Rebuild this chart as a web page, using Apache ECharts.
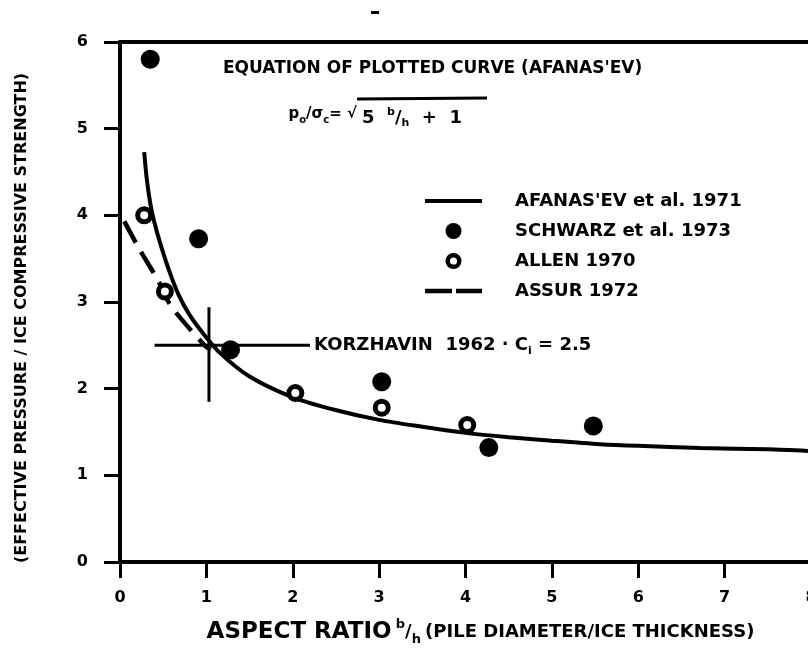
<!DOCTYPE html>
<html><head><meta charset="utf-8">
<script src="https://cdn.jsdelivr.net/npm/echarts@6/dist/echarts.min.js"></script>
<style>html,body{margin:0;padding:0;background:#fff}#c{width:808px;height:655px}</style>
</head><body><div id="c"></div>
<script>
// ---- data ----
const afanasevCurve = [[0.28,4.73],[0.31,4.42],[0.35,4.14],[0.39,3.95],[0.48,3.63],[0.58,3.33],[0.68,3.08],[0.8,2.86],[0.96,2.64],[1.16,2.41],[1.5,2.14],[2.0,1.90],[2.47,1.76],[3.0,1.64],[3.5,1.56],[4.0,1.49],[4.5,1.44],[5.0,1.40],[5.56,1.36],[6.0,1.34],[6.72,1.315],[7.5,1.30],[8.0,1.28]];
const schwarzPoints = [[0.35,5.80],[0.91,3.73],[1.28,2.45],[3.03,2.08],[4.27,1.32],[5.48,1.57]];
const allenPoints = [[0.28,4.00],[0.52,3.12],[2.03,1.95],[3.03,1.78],[4.02,1.58]];
const assurCurve = [[0.05,3.93],[0.23,3.60],[0.44,3.25],[0.58,2.97],[0.79,2.71],[0.98,2.50],[1.05,2.45]];
const korzhavinHorizontal = [[0.4,2.5],[2.2,2.5]];
const korzhavinVertical = [[1.03,1.85],[1.03,2.94]];
const xTickValues = [0,1,2,3,4,5,6,7,8];
const yTickValues = [0,1,2,3,4,5,6];
const seriesNames = ["AFANAS'EV et al. 1971","SCHWARZ et al. 1973","ALLEN 1970","ASSUR 1972"];

const FONT = 'DejaVu Sans';
const chart = echarts.init(document.getElementById('c'), null, {renderer:'canvas'});
const axisCommon = {
  type:'value',
  axisLine:{show:true, onZero:false, lineStyle:{color:'#000', width:4}},
  axisTick:{show:true, inside:false, length:16, lineStyle:{color:'#000', width:3}},
  splitLine:{show:false},
  axisLabel:{color:'#000', fontFamily:FONT, fontWeight:'bold', fontSize:16}
};
const solidIcon = 'path://M0,0 H57 V4 H0 Z';
const dashIcon = 'path://M0,0 H27 V4.5 H0 Z M31,0 H57 V4.5 H31 Z';
const ringIcon = 'path://M8,0 A8,8 0 1,1 7.99,0 Z M8,4.4 A3.6,3.6 0 1,0 8.01,4.4 Z';
chart.setOption({
  animation:false,
  backgroundColor:'#fff',
  title:{
    text:"EQUATION OF PLOTTED CURVE (AFANAS'EV)",
    left:223, top:60, padding:0,
    textStyle:{color:'#000', fontFamily:FONT, fontWeight:'bold', fontSize:17}
  },
  legend:{
    orient:'vertical', left:425, top:192, padding:0,
    itemWidth:57, itemHeight:16, itemGap:12,
    textStyle:{color:'#000', fontFamily:FONT, fontWeight:'bold', fontSize:18, lineHeight:18, padding:[0,0,0,28]},
    data:[
      {name:seriesNames[0], icon:solidIcon, itemStyle:{color:'#000'}},
      {name:seriesNames[1]},
      {name:seriesNames[2], icon:ringIcon, itemStyle:{color:'#000', borderWidth:0}},
      {name:seriesNames[3], icon:dashIcon, itemStyle:{color:'#000'}}
    ]
  },
  grid:{left:120, top:42, width:691, height:520, outerBoundsMode:'none', containLabel:false},
  xAxis:[
    Object.assign({}, axisCommon, {
      min:0, max:8, interval:1, position:'bottom',
      axisLabel:Object.assign({}, axisCommon.axisLabel, {margin:28,
        formatter:v=>xTickValues.includes(v)?String(v):''}),
      name:'{big|ASPECT RATIO} {sup|b}{mid|/}{sub|h} {med|(PILE DIAMETER/ICE THICKNESS)}',
      nameLocation:'middle', nameGap:56,
      nameTextStyle:{color:'#000', fontFamily:FONT, fontWeight:'bold', padding:[0,0,0,30],
        rich:{
          big:{fontSize:23, fontWeight:'bold', fontFamily:FONT, color:'#000', lineHeight:28},
          med:{fontSize:18, fontWeight:'bold', fontFamily:FONT, color:'#000'},
          mid:{fontSize:18, fontWeight:'bold', fontFamily:FONT, color:'#000'},
          sup:{fontSize:13, fontWeight:'bold', fontFamily:FONT, color:'#000', verticalAlign:'top'},
          sub:{fontSize:13, fontWeight:'bold', fontFamily:FONT, color:'#000', verticalAlign:'bottom'}
        }}
    }),
    {type:'value', min:0, max:8, position:'top',
      axisLine:{show:true, onZero:false, lineStyle:{color:'#000', width:4}},
      axisTick:{show:false}, axisLabel:{show:false}, splitLine:{show:false}}
  ],
  yAxis:Object.assign({}, axisCommon, {
    min:0, max:6, interval:1,
    axisLabel:Object.assign({}, axisCommon.axisLabel, {margin:32,
      formatter:v=>yTickValues.includes(v)?String(v):''}),
    name:'(EFFECTIVE PRESSURE / ICE COMPRESSIVE STRENGTH)',
    nameLocation:'middle', nameRotate:90, nameGap:90,
    nameTextStyle:{color:'#000', fontFamily:FONT, fontWeight:'bold', fontSize:16, padding:[0,32,0,0]}
  }),
  series:[
    {name:seriesNames[0], type:'line', smooth:0.3, symbol:'none', data:afanasevCurve,
      lineStyle:{color:'#000', width:4}, itemStyle:{color:'#000'}, z:3},
    {name:seriesNames[3], type:'line', smooth:0.3, symbol:'none', data:assurCurve,
      lineStyle:{color:'#000', width:4.5, type:[24,11], cap:'butt'}, itemStyle:{color:'#000'}, z:3},
    {name:'KORZHAVIN', type:'line', symbol:'none', data:korzhavinHorizontal,
      lineStyle:{color:'#000', width:3}, z:2,
      endLabel:{show:true, distance:4,
        formatter:'{n|KORZHAVIN  1962 · C}{sub|i}{n| = 2.5}',
        rich:{
          n:{fontSize:18, fontWeight:'bold', fontFamily:FONT, color:'#000', lineHeight:22},
          sub:{fontSize:11, fontWeight:'bold', fontFamily:FONT, color:'#000', verticalAlign:'bottom'}
        }}},
    {name:'KORZHAVIN range', type:'line', symbol:'none', data:korzhavinVertical,
      lineStyle:{color:'#000', width:3}, z:2},
    {name:seriesNames[1], type:'scatter', data:schwarzPoints, symbol:'circle', symbolSize:19,
      itemStyle:{color:'#000', opacity:1}, z:5},
    {name:seriesNames[2], type:'scatter', data:allenPoints, symbol:'circle', symbolSize:13,
      itemStyle:{color:'#fff', borderColor:'#000', borderWidth:5, opacity:1}, z:5}
  ],
  graphic:[
    {type:'rect', left:371, top:11, shape:{width:8, height:3}, style:{fill:'#000'}},
    {type:'text', right:808-357, top:107, style:{
      text:'{n|p}{sub|o}{n|/σ}{sub|c}{n|= √}',
      rich:{
        n:{fontSize:15, fontWeight:'bold', fontFamily:FONT, fill:'#000', lineHeight:22},
        sub:{fontSize:10, fontWeight:'bold', fontFamily:FONT, fill:'#000', verticalAlign:'bottom'}
      }}},
    {type:'text', left:362, top:107, style:{
      text:'{n|5  }{sup|b}{n|/}{sub|h}{n|  +  1}',
      rich:{
        n:{fontSize:18, fontWeight:'bold', fontFamily:FONT, fill:'#000', lineHeight:22},
        sup:{fontSize:11, fontWeight:'bold', fontFamily:FONT, fill:'#000', verticalAlign:'top'},
        sub:{fontSize:11, fontWeight:'bold', fontFamily:FONT, fill:'#000', verticalAlign:'bottom'}
      }}},
    {type:'line', shape:{x1:357, y1:99, x2:487, y2:98}, style:{stroke:'#000', lineWidth:3}}
  ]
});
</script></body></html>
